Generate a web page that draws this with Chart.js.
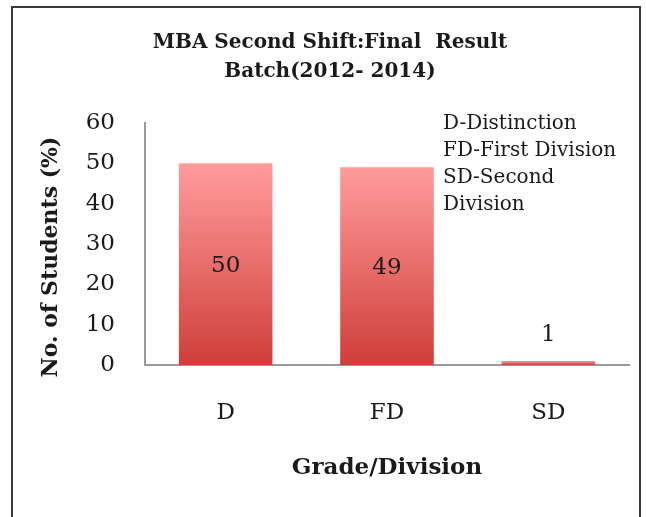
<!DOCTYPE html>
<html>
<head>
<meta charset="utf-8">
<script src="https://cdn.jsdelivr.net/npm/chart.js@4"></script>
<style>
  body { margin: 0; background: #fff; }
  #wrap { position: relative; width: 646px; height: 517px; overflow: hidden; }
  #frame { position: absolute; left: 11px; top: 6px; width: 630px; height: 540px; border: 2px solid #3a3a3a; box-sizing: border-box; }
  canvas { position: absolute; left: 0; top: 0; }
</style>
</head>
<body>
<div id="wrap">
  <div id="frame"></div>
  <canvas id="chart" width="646" height="517"></canvas>
</div>
<script>
const grades = ['D', 'FD', 'SD'];
const percentStudents = [50, 49, 1];
const yMin = 0;
const yMax = 60;
const yStep = 10;
const titleLines = ['MBA Second Shift:Final  Result', 'Batch(2012- 2014)'];
const noteLines = ['D-Distinction', 'FD-First Division', 'SD-Second', 'Division'];
const xTitle = 'Grade/Division';
const yTitle = 'No. of Students (%)';

const FONT = '"DejaVu Serif", "Liberation Serif", serif';
const ink = '#1a1a1a';

// per-bar vertical gradient, pink at the top to red at the base
const barFill = (c) => {
  const chart = c.chart;
  if (!chart.chartArea || c.type !== 'data') return '#e87070';
  const y = chart.scales.y;
  const top = y.getPixelForValue(c.raw);
  const bottom = y.getPixelForValue(0);
  if (bottom - top < 2) return '#f28a8a';
  const g = chart.ctx.createLinearGradient(0, top, 0, bottom);
  g.addColorStop(0, '#ff9c9c');
  g.addColorStop(1, '#cf3e39');
  return g;
};

const extraText = {
  id: 'extraText',
  afterDraw(chart) {
    const ctx = chart.ctx;
    ctx.save();
    ctx.fillStyle = ink;
    ctx.textBaseline = 'middle';

    ctx.textAlign = 'center';
    ctx.font = 'bold 20px ' + FONT;
    titleLines.forEach((t, i) => ctx.fillText(t, 330, 43 + i * 29));

    // y axis title sits a little below the plot's middle in the original
    ctx.save();
    ctx.translate(51, 257);
    ctx.rotate(-Math.PI / 2);
    ctx.font = 'bold 22px ' + FONT;
    ctx.fillText(yTitle, 0, 0);
    ctx.restore();

    ctx.textAlign = 'left';
    ctx.font = '20px ' + FONT;
    noteLines.forEach((t, i) => ctx.fillText(t, 443, 124 + i * 27));

    // value labels: centred in tall bars, above short ones
    ctx.textAlign = 'center';
    ctx.font = '23px ' + FONT;
    const meta = chart.getDatasetMeta(0);
    meta.data.forEach((bar, i) => {
      const v = percentStudents[i];
      const y = v > 5 ? (bar.y + bar.base) / 2 + 2 : bar.y - 26;
      ctx.fillText(String(v), bar.x, y);
    });
    ctx.restore();
  }
};

new Chart(document.getElementById('chart'), {
  type: 'bar',
  data: {
    labels: grades,
    datasets: [{
      data: percentStudents,
      backgroundColor: barFill,
      borderWidth: 0,
      barPercentage: 0.58,
      categoryPercentage: 1
    }]
  },
  options: {
    responsive: false,
    animation: false,
    layout: { padding: { top: 123, left: 14, right: 17, bottom: 35 } },
    plugins: {
      legend: { display: false },
      title: { display: false },
      tooltip: { enabled: false }
    },
    scales: {
      x: {
        grid: { display: false, drawTicks: false },
        border: { color: '#9a9a9a', width: 2 },
        ticks: { font: { family: FONT, size: 23 }, color: ink, padding: 34 },
        title: {
          display: true, text: xTitle, color: ink,
          font: { family: FONT, size: 23, weight: 'bold' },
          padding: { top: 0, bottom: 0 }
        },
        afterFit: (s) => { s.height = 117; }
      },
      y: {
        min: yMin, max: yMax,
        grid: { display: false, drawTicks: false },
        border: { color: '#9a9a9a', width: 2 },
        ticks: { stepSize: yStep, font: { family: FONT, size: 23 }, color: ink, padding: 30 },
        title: { display: false },
        afterFit: (s) => { s.width = 131; }
      }
    }
  },
  plugins: [extraText]
});
</script>
</body>
</html>
